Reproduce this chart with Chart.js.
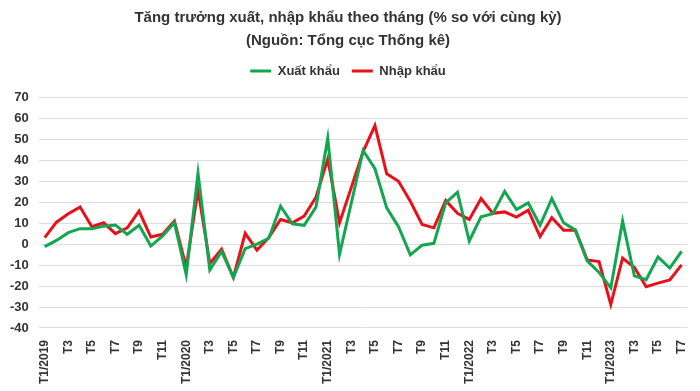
<!DOCTYPE html>
<html>
<head>
<meta charset="utf-8">
<script src="https://cdn.jsdelivr.net/npm/chart.js@4.4.0/dist/chart.umd.min.js"></script>
<style>
  html, body { margin: 0; padding: 0; background: #fff; }
  #wrap { width: 700px; height: 391px; }
</style>
</head>
<body>
<div id="wrap"><canvas id="tradeChart"></canvas></div>
<script>
// Tang truong xuat, nhap khau theo thang - line chart

const months = [
    'T1/2019', 'T2', 'T3', 'T4', 'T5', 'T6', 'T7', 'T8', 'T9', 'T10', 'T11', 'T12',
    'T1/2020', 'T2', 'T3', 'T4', 'T5', 'T6', 'T7', 'T8', 'T9', 'T10', 'T11', 'T12',
    'T1/2021', 'T2', 'T3', 'T4', 'T5', 'T6', 'T7', 'T8', 'T9', 'T10', 'T11', 'T12',
    'T1/2022', 'T2', 'T3', 'T4', 'T5', 'T6', 'T7', 'T8', 'T9', 'T10', 'T11', 'T12',
    'T1/2023', 'T2', 'T3', 'T4', 'T5', 'T6', 'T7'
];

const exportGrowth = [
    -1.2, 1.8, 5.5, 7.4, 7.4, 8.6, 9.1, 4.7, 9.0, -0.9, 3.9, 10.2,
    -14.6, 33.9, -12.3, -3.5, -15.9, -2.1, 0.0, 2.8, 18.1, 9.7, 9.0, 17.7,
    50.6, -4.8, 19.7, 44.7, 36.0, 17.3, 8.3, -5.1, -0.5, 0.4, 19.7, 24.8,
    1.5, 13.1, 14.5, 25.2, 16.5, 19.7, 9.0, 21.8, 10.2, 6.7, -8.0, -13.5,
    -20.9, 11.0, -15.1, -17.0, -6.1, -11.4, -3.5
];

const importGrowth = [
    3.1, 10.5, 14.5, 17.7, 8.3, 10.2, 5.0, 7.8, 15.8, 3.4, 4.7, 11.0,
    -11.1, 26.0, -9.2, -2.4, -15.9, 5.2, -2.8, 3.1, 11.8, 10.2, 13.4, 22.4,
    40.6, 10.2, 27.1, 44.2, 56.6, 33.6, 30.0, 20.5, 9.4, 7.8, 20.8, 14.7,
    11.8, 21.8, 14.7, 15.4, 12.9, 16.2, 3.6, 12.6, 6.6, 6.6, -7.5, -8.3,
    -28.8, -6.7, -11.1, -20.3, -18.6, -17.1, -9.9
];

const titleLines = [
    'Tăng trưởng xuất, nhập khẩu theo tháng (% so với cùng kỳ)',
    '(Nguồn: Tổng cục Thống kê)'
];

const FONT = "'Liberation Sans', Arial, sans-serif";
const TEXT_COLOR = '#333333';

// extra room under the legend
const legendMargin = {
    id: 'legendMargin',
    beforeInit(chart) {
        const fit = chart.legend.fit;
        chart.legend.fit = function() {
            fit.bind(chart.legend)();
            this.height += 10;
        };
    }
};

const ctx = document.getElementById('tradeChart').getContext('2d');

new Chart(ctx, {
    type: 'line',
    data: {
        labels: months,
        datasets: [
            {
                label: 'Xuất khẩu',
                data: exportGrowth,
                borderColor: '#12a650',
                backgroundColor: '#12a650',
                borderWidth: 3,
                pointRadius: 0,
                tension: 0
            },
            {
                label: 'Nhập khẩu',
                data: importGrowth,
                borderColor: '#e8111a',
                backgroundColor: '#e8111a',
                borderWidth: 3,
                pointRadius: 0,
                tension: 0
            }
        ]
    },
    options: {
        responsive: true,
        maintainAspectRatio: false,
        animation: false,
        layout: {
            padding: { left: 0, right: 4, top: 4, bottom: 3 }
        },
        plugins: {
            title: {
                display: true,
                text: titleLines,
                color: TEXT_COLOR,
                font: { family: FONT, size: 15, weight: 'bold', lineHeight: 1.55 },
                padding: { top: 2, bottom: 0 }
            },
            legend: {
                position: 'top',
                labels: {
                    usePointStyle: true,
                    pointStyle: 'line',
                    pointStyleWidth: 21,
                    color: TEXT_COLOR,
                    font: { family: FONT, size: 13, weight: 'bold' },
                    padding: 12
                }
            },
            tooltip: { enabled: false }
        },
        scales: {
            x: {
                offset: true,
                grid: { display: false },
                border: { display: false },
                ticks: {
                    autoSkip: false,
                    maxRotation: 90,
                    minRotation: 90,
                    padding: 4,
                    color: TEXT_COLOR,
                    font: { family: FONT, size: 12, weight: 'bold' },
                    callback: function(value, index) {
                        return index % 2 === 0 ? months[index] : null;
                    }
                }
            },
            y: {
                min: -40,
                max: 70,
                border: { display: false },
                grid: { color: '#dddddd', lineWidth: 1, drawTicks: false },
                ticks: {
                    stepSize: 10,
                    padding: 10,
                    color: TEXT_COLOR,
                    font: { family: FONT, size: 13, weight: 'bold' }
                }
            }
        }
    },
    plugins: [legendMargin]
});
</script>
</body>
</html>
